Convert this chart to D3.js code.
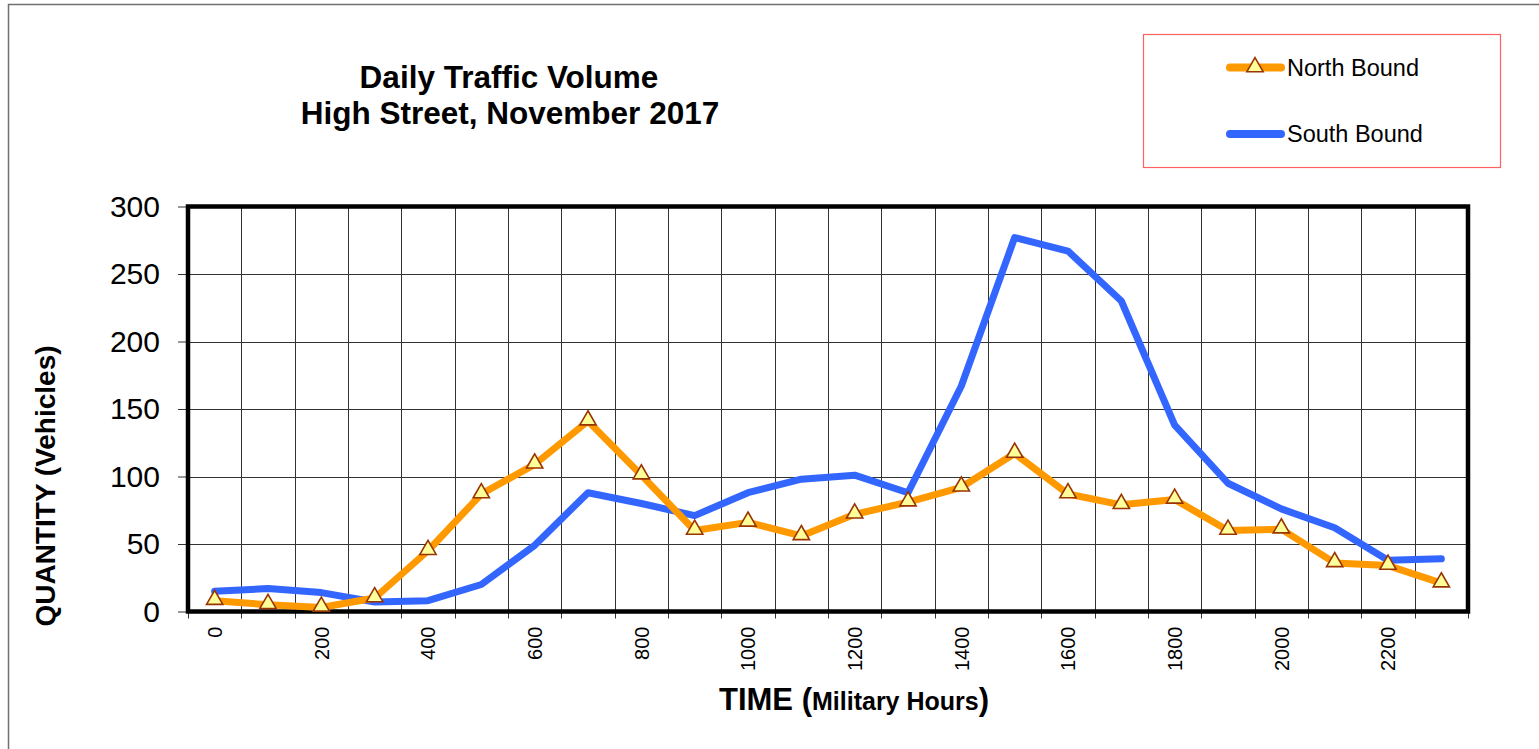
<!DOCTYPE html>
<html>
<head>
<meta charset="utf-8">
<script src="https://cdn.jsdelivr.net/npm/d3@7"></script>
<style>
    body { margin: 0; background: #fff; }
    text { font-family: "Liberation Sans", Arial, sans-serif; }
</style>
</head>
<body>
<svg id="chart_svg"></svg>
<script>
    // ============ DATA =================
    var hours = [0, 100, 200, 300, 400, 500, 600, 700, 800, 900, 1000, 1100,
                 1200, 1300, 1400, 1500, 1600, 1700, 1800, 1900, 2000, 2100, 2200, 2300];
    var northBound = [8, 5, 3, 10, 45, 87, 109, 141, 101, 60, 66, 56,
                      72, 81, 92, 117, 87, 79, 83, 60, 61, 36, 34, 21];
    var southBound = [15, 17, 14, 7, 8, 20, 49, 88, 80, 71, 88, 98,
                      101, 88, 167, 277, 267, 230, 138, 95, 76, 62, 38, 39];
    var yTicks = [0, 50, 100, 150, 200, 250, 300];
    var xLabels = [0, 200, 400, 600, 800, 1000, 1200, 1400, 1600, 1800, 2000, 2200];
    var seriesNames = ["North Bound", "South Bound"];

    var orange = "#FF9900";
    var blue = "#3366FF";

    function drawChart() {
        var width = 1539;
        var height = 749;
        var plot = { left: 188, right: 1468, top: 206.5, bottom: 611.5 };

        var svg = d3.select("#chart_svg")
            .attr("width", width)
            .attr("height", height);

        // outer chart border (runs off the page at right/bottom)
        svg.append("rect")
            .attr("x", 8.5).attr("y", 4.5)
            .attr("width", 1560).attr("height", 800)
            .attr("fill", "none")
            .attr("stroke", "#707070")
            .attr("stroke-width", 1.5);

        var xScale = d3.scaleBand()
            .domain(hours)
            .range([plot.left, plot.right])
            .padding(0);

        var yScale = d3.scaleLinear()
            .domain([0, 300])
            .range([plot.bottom, plot.top]);

        var xMid = function (h) { return xScale(h) + xScale.bandwidth() / 2; };

        // gridlines
        var grid = svg.append("g").attr("class", "grid");
        grid.selectAll(".vgrid")
            .data(hours.slice(1))
            .enter().append("line")
            .attr("x1", function (h) { return Math.round(xScale(h)) + 0.5; })
            .attr("x2", function (h) { return Math.round(xScale(h)) + 0.5; })
            .attr("y1", plot.top)
            .attr("y2", plot.bottom)
            .attr("stroke", "#333")
            .attr("stroke-width", 1);
        grid.selectAll(".hgrid")
            .data(yTicks.slice(1, -1))
            .enter().append("line")
            .attr("x1", plot.left)
            .attr("x2", plot.right)
            .attr("y1", function (d) { return Math.round(yScale(d)) + 0.5; })
            .attr("y2", function (d) { return Math.round(yScale(d)) + 0.5; })
            .attr("stroke", "#333")
            .attr("stroke-width", 1);

        // y axis ticks + labels
        var yAxis = svg.append("g")
            .attr("transform", "translate(" + plot.left + ",0)")
            .call(d3.axisLeft(yScale).tickValues(yTicks).tickSize(10).tickPadding(18));
        yAxis.select(".domain").remove();
        yAxis.selectAll(".tick line").attr("stroke", "#333");
        yAxis.selectAll("text")
            .attr("fill", "#000")
            .style("font-family", "'Liberation Sans', Arial, sans-serif")
            .style("font-size", "30px");

        // x tick marks on band boundaries
        var xBounds = hours.map(function (h) { return xScale(h); }).concat([xScale.range()[1]]);
        svg.append("g").selectAll("line")
            .data(xBounds)
            .enter().append("line")
            .attr("x1", function (d) { return Math.round(d) + 0.5; })
            .attr("x2", function (d) { return Math.round(d) + 0.5; })
            .attr("y1", plot.bottom)
            .attr("y2", plot.bottom + 7)
            .attr("stroke", "#333");

        // x labels, rotated
        svg.append("g").selectAll("text")
            .data(xLabels)
            .enter().append("text")
            .attr("transform", function (h) { return "translate(" + xMid(h) + "," + (plot.bottom + 15) + ") rotate(-90)"; })
            .attr("text-anchor", "end")
            .attr("dy", "0.36em")
            .style("font-size", "20px")
            .text(function (h) { return h; });

        // plot frame
        svg.append("rect")
            .attr("x", plot.left).attr("y", plot.top)
            .attr("width", plot.right - plot.left)
            .attr("height", plot.bottom - plot.top)
            .attr("fill", "none")
            .attr("stroke", "#000")
            .attr("stroke-width", 4.5);

        // lines
        var line = d3.line()
            .x(function (d) { return xMid(d.h); })
            .y(function (d) { return yScale(d.v); });

        var southData = hours.map(function (h, i) { return { h: h, v: southBound[i] }; });
        var northData = hours.map(function (h, i) { return { h: h, v: northBound[i] }; });

        svg.append("path")
            .datum(southData)
            .attr("d", line)
            .attr("fill", "none")
            .attr("stroke", blue)
            .attr("stroke-width", 7)
            .attr("stroke-linejoin", "round")
            .attr("stroke-linecap", "round");

        svg.append("path")
            .datum(northData)
            .attr("d", line)
            .attr("fill", "none")
            .attr("stroke", orange)
            .attr("stroke-width", 7)
            .attr("stroke-linejoin", "round")
            .attr("stroke-linecap", "round");

        var tri = d3.symbol().type(d3.symbolTriangle).size(115);
        svg.append("g").selectAll("path")
            .data(northData)
            .enter().append("path")
            .attr("d", tri)
            .attr("transform", function (d) { return "translate(" + xMid(d.h) + "," + (yScale(d.v) - 1) + ")"; })
            .attr("fill", "#FFFF99")
            .attr("stroke", "#993300")
            .attr("stroke-width", 1.6);

        // titles
        var title = svg.append("text")
            .attr("text-anchor", "middle")
            .style("font-size", "31.5px")
            .style("font-weight", "bold");
        title.append("tspan").attr("x", 509).attr("y", 88).text("Daily Traffic Volume");
        title.append("tspan").attr("x", 510).attr("y", 124).text("High Street, November 2017");

        svg.append("text")
            .attr("transform", "translate(55,486) rotate(-90)")
            .attr("text-anchor", "middle")
            .style("font-size", "28px")
            .style("font-weight", "bold")
            .text("QUANTITY (Vehicles)");

        var xTitle = svg.append("text")
            .attr("x", 854)
            .attr("y", 710)
            .attr("text-anchor", "middle")
            .style("font-weight", "bold");
        xTitle.append("tspan").style("font-size", "31px").text("TIME (");
        xTitle.append("tspan").style("font-size", "25px").text("Military Hours");
        xTitle.append("tspan").style("font-size", "31px").text(")");

        // legend
        var legend = svg.append("g");
        legend.append("rect")
            .attr("x", 1143.5).attr("y", 34.5)
            .attr("width", 357).attr("height", 133)
            .attr("fill", "#fff")
            .attr("stroke", "#ff6060")
            .attr("stroke-width", 1.2);

        var legendItems = [
            { name: seriesNames[0], color: orange, y: 67.5, marker: true },
            { name: seriesNames[1], color: blue, y: 134, marker: false }
        ];
        legendItems.forEach(function (item) {
            legend.append("line")
                .attr("x1", 1230).attr("x2", 1281)
                .attr("y1", item.y).attr("y2", item.y)
                .attr("stroke", item.color)
                .attr("stroke-width", 8)
                .attr("stroke-linecap", "round");
            if (item.marker) {
                legend.append("path")
                    .attr("d", tri)
                    .attr("transform", "translate(1255," + (item.y - 0.5) + ")")
                    .attr("fill", "#FFFF99")
                    .attr("stroke", "#993300")
                    .attr("stroke-width", 1.6);
            }
            legend.append("text")
                .attr("x", 1287)
                .attr("y", item.y + 8)
                .style("font-size", "23.5px")
                .text(item.name);
        });
    }

    drawChart();
</script>
</body>
</html>
